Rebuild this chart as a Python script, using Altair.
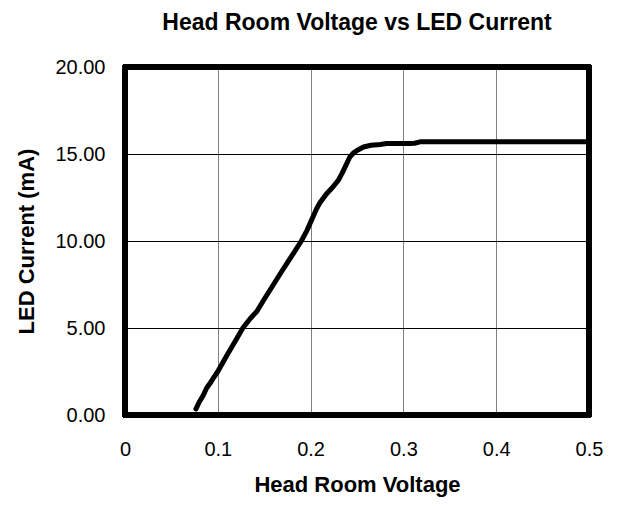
import altair as alt
import pandas as pd

voltage = [0.0765, 0.080, 0.084, 0.088, 0.092, 0.095, 0.100, 0.110, 0.120, 0.127,
           0.135, 0.142, 0.150, 0.160, 0.170, 0.181, 0.190, 0.196, 0.201, 0.206,
           0.210, 0.217, 0.224, 0.230, 0.234, 0.238, 0.242, 0.246, 0.250, 0.257,
           0.265, 0.275, 0.282, 0.295, 0.307, 0.312, 0.318, 0.35, 0.40, 0.45, 0.50]
current = [0.35, 0.75, 1.1, 1.55, 1.85, 2.1, 2.5, 3.45, 4.35, 5.0,
           5.55, 5.95, 6.65, 7.5, 8.35, 9.25, 10.0, 10.6, 11.2, 11.8,
           12.2, 12.7, 13.1, 13.5, 13.9, 14.35, 14.8, 15.05, 15.2, 15.4,
           15.5, 15.55, 15.6, 15.6, 15.6, 15.62, 15.7, 15.7, 15.7, 15.7, 15.7]

x_ticks = [0, 0.1, 0.2, 0.3, 0.4, 0.5]
y_ticks = [0, 5, 10, 15, 20]
x_domain = [0, 0.5]
y_domain = [0, 20]

df = pd.DataFrame({"v": voltage, "i": current})

FONT = "Liberation Sans"

x_enc = alt.X("v:Q", scale=alt.Scale(domain=x_domain, nice=False),
              axis=alt.Axis(title="Head Room Voltage", values=x_ticks, format="~g",
                            grid=True, gridColor="#808080", gridWidth=1,
                            domain=False, ticks=False, labelPadding=24,
                            labelFlush=False,
                            labelFontSize=20, titleFontSize=22, titlePadding=15,
                            labelFont=FONT, titleFont=FONT, labelColor="black",
                            titleColor="black", titleFontWeight="bold"))
y_enc = alt.Y("i:Q", scale=alt.Scale(domain=y_domain, nice=False),
              axis=alt.Axis(title="LED Current (mA)", values=y_ticks, format=".2f",
                            grid=True, gridColor="black", gridWidth=1,
                            domain=False, ticks=False, labelPadding=20,
                            labelFlush=False,
                            labelFontSize=20, titleFontSize=22, titlePadding=16,
                            labelFont=FONT, titleFont=FONT, labelColor="black",
                            titleColor="black", titleFontWeight="bold"))

line = alt.Chart(df).mark_line(color="black", strokeWidth=5, strokeCap="round",
                               strokeJoin="round").encode(x=x_enc, y=y_enc)

frame = alt.Chart(df).mark_rect(filled=False, stroke="black", strokeWidth=5,
                                strokeJoin="round").encode(
    x=alt.datum(x_domain[0]), x2=alt.datum(x_domain[1]),
    y=alt.datum(y_domain[0]), y2=alt.datum(y_domain[1]),
)

chart = alt.layer(line, frame).properties(
    width=464, height=348,
    title=alt.TitleParams("Head Room Voltage vs LED Current", font=FONT, fontSize=23,
                          fontWeight="bold", color="black", anchor="middle",
                          offset=22),
    autosize=alt.AutoSizeParams(type="none"),
    padding={"left": 117, "top": 59, "right": 20, "bottom": 83},
).configure_view(strokeWidth=0).configure(background="white")

chart.save("out.html", embed_options={"renderer": "svg", "actions": False})
